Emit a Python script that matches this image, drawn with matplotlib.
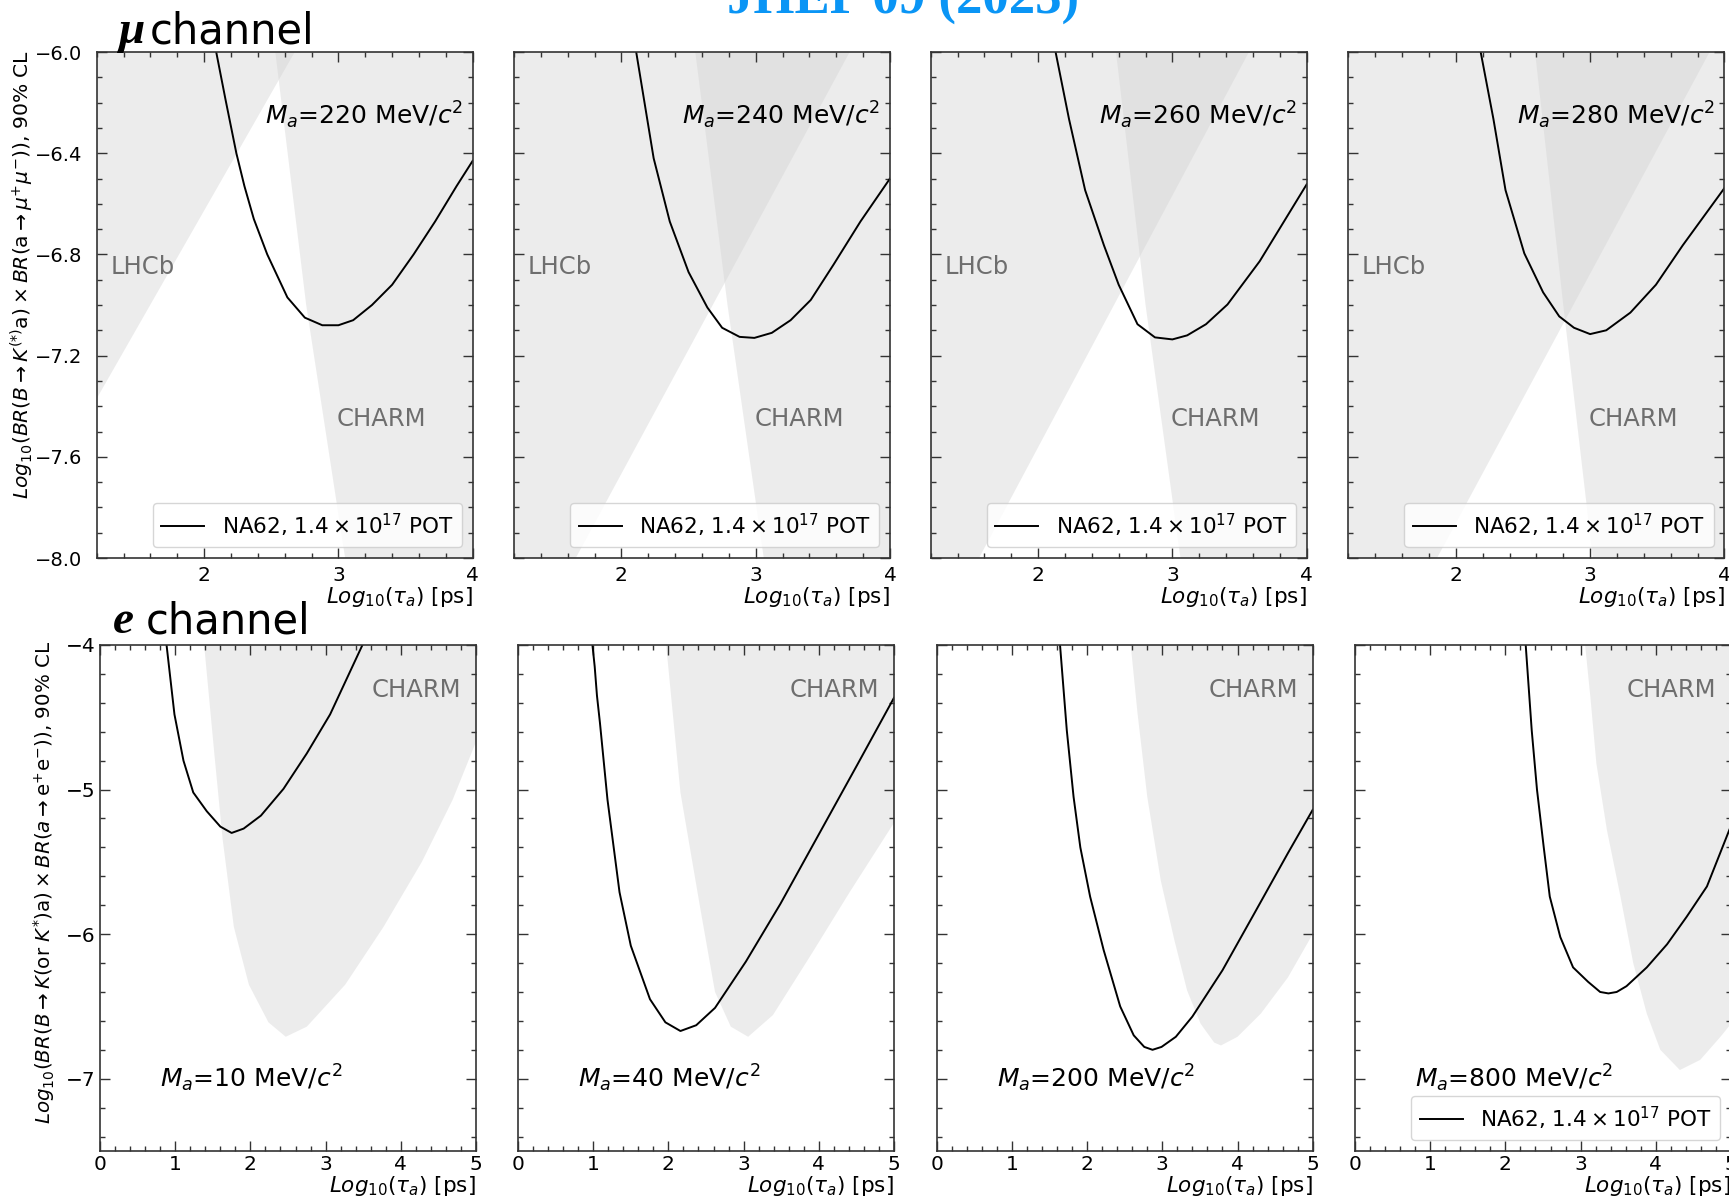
import numpy as np
import matplotlib
matplotlib.use("Agg")
import matplotlib.pyplot as plt
from matplotlib.ticker import MultipleLocator

# ---------------- muon channel: B -> K(*) a, a -> mu+ mu- ----------------
mu_masses = [220, 240, 260, 280]  # MeV/c^2

mu_tau_220 = [2.09, 2.16, 2.24, 2.30, 2.37, 2.47, 2.62, 2.75, 2.88, 3.00, 3.11, 3.25, 3.40, 3.56, 3.72, 3.88, 4.00]
mu_br_220 = [-6.00, -6.19, -6.40, -6.53, -6.66, -6.80, -6.97, -7.05, -7.08, -7.08, -7.06, -7.00, -6.92, -6.80, -6.67, -6.53, -6.43]
mu_tau_240 = [2.11, 2.24, 2.36, 2.50, 2.64, 2.75, 2.88, 2.99, 3.12, 3.26, 3.41, 3.58, 3.78, 4.00]
mu_br_240 = [-6.00, -6.42, -6.67, -6.87, -7.01, -7.09, -7.126, -7.13, -7.11, -7.06, -6.98, -6.84, -6.67, -6.50]
mu_tau_260 = [2.13, 2.23, 2.35, 2.49, 2.60, 2.74, 2.87, 3.00, 3.11, 3.25, 3.41, 3.65, 4.00]
mu_br_260 = [-6.00, -6.265, -6.546, -6.764, -6.92, -7.076, -7.128, -7.136, -7.12, -7.076, -6.998, -6.827, -6.523]
mu_tau_280 = [2.185, 2.28, 2.37, 2.51, 2.65, 2.77, 2.88, 3.00, 3.12, 3.30, 3.49, 3.69, 4.00]
mu_br_280 = [-6.00, -6.265, -6.546, -6.796, -6.95, -7.045, -7.09, -7.115, -7.10, -7.03, -6.92, -6.764, -6.538]

# LHCb exclusion edge (region above/left of the edge is excluded)
lhcb_x_220, lhcb_y_220 = [1.20, 2.675], [-7.37, -6.0]
lhcb_x_240, lhcb_y_240 = [1.66, 3.70], [-8.0, -6.0]
lhcb_x_260, lhcb_y_260 = [1.56, 3.57], [-8.0, -6.0]
lhcb_x_280, lhcb_y_280 = [1.86, 3.89], [-8.0, -6.0]

# CHARM exclusion edge for the muon channel (region right of the edge is excluded)
charm_mu_y = [-6.0, -7.0, -8.0]
charm_mu_x_220 = [2.53, 2.76, 3.05]
charm_mu_x_240 = [2.55, 2.79, 3.06]
charm_mu_x_260 = [2.58, 2.80, 3.06]
charm_mu_x_280 = [2.59, 2.80, 3.02]

# ---------------- electron channel: B -> K(or K*) a, a -> e+ e- ----------------
e_masses = [10, 40, 200, 800]  # MeV/c^2

e_tau_10 = [0.885, 0.99, 1.11, 1.24, 1.42, 1.60, 1.75, 1.91, 2.14, 2.44, 2.75, 3.06, 3.49]
e_br_10 = [-4.00, -4.48, -4.80, -5.02, -5.15, -5.256, -5.30, -5.27, -5.18, -4.995, -4.75, -4.48, -4.00]
e_tau_40 = [0.99, 1.02, 1.05, 1.09, 1.19, 1.35, 1.50, 1.755, 1.96, 2.16, 2.37, 2.62, 3.03, 3.49, 4.00, 4.51, 5.00]
e_br_40 = [-4.00, -4.15, -4.35, -4.54, -5.07, -5.71, -6.08, -6.45, -6.61, -6.67, -6.63, -6.51, -6.19, -5.79, -5.31, -4.83, -4.365]
e_tau_200 = [1.64, 1.73, 1.82, 1.91, 2.04, 2.22, 2.44, 2.62, 2.76, 2.87, 2.99, 3.18, 3.40, 3.80, 4.22, 4.67, 5.00]
e_br_200 = [-4.00, -4.59, -5.05, -5.40, -5.74, -6.11, -6.50, -6.70, -6.78, -6.80, -6.78, -6.71, -6.57, -6.25, -5.86, -5.44, -5.14]
e_tau_800 = [2.27, 2.35, 2.42, 2.51, 2.59, 2.73, 2.90, 3.10, 3.26, 3.37, 3.48, 3.61, 3.88, 4.15, 4.41, 4.68, 5.00]
e_br_800 = [-4.00, -4.59, -5.00, -5.40, -5.74, -6.02, -6.23, -6.33, -6.40, -6.41, -6.40, -6.36, -6.23, -6.07, -5.88, -5.67, -5.25]

# CHARM exclusion contour for the electron channel (region inside the U is excluded)
charm_e_x_10 = [1.385, 1.52, 1.63, 1.78, 1.98, 2.24, 2.47, 2.75, 3.26, 3.77, 4.28, 4.69, 5.00]
charm_e_y_10 = [-4.00, -4.75, -5.34, -5.95, -6.35, -6.61, -6.71, -6.64, -6.35, -5.95, -5.50, -5.07, -4.67]
charm_e_x_40 = [1.97, 2.16, 2.42, 2.62, 2.83, 3.06, 3.39, 3.90, 4.41, 5.00]
charm_e_y_40 = [-4.00, -5.02, -5.81, -6.40, -6.64, -6.71, -6.56, -6.14, -5.71, -5.23]
charm_e_x_200 = [2.58, 2.67, 2.80, 2.98, 3.16, 3.33, 3.51, 3.69, 3.78, 4.00, 4.31, 4.67, 5.00]
charm_e_y_200 = [-4.00, -4.47, -5.05, -5.63, -6.04, -6.39, -6.62, -6.75, -6.77, -6.71, -6.55, -6.30, -6.00]
charm_e_x_800 = [3.06, 3.13, 3.21, 3.35, 3.53, 3.70, 3.88, 4.06, 4.32, 4.59, 4.86, 5.00]
charm_e_y_800 = [-4.00, -4.36, -4.82, -5.28, -5.74, -6.20, -6.55, -6.80, -6.94, -6.87, -6.71, -6.62]

legend_label = r'NA62, $1.4\times10^{17}$ POT'
mu_ylabel = (r'$Log_{10}(BR(B\rightarrow K^{(*)}\mathrm{a})\times '
             r'BR(\mathrm{a}\rightarrow\mu^{+}\mu^{-}))$, 90% CL')
e_ylabel = (r'$Log_{10}(BR(B\rightarrow K(\mathrm{or}\ K^{*})\mathrm{a})\times '
            r'BR(a\rightarrow \mathrm{e}^{+}\mathrm{e}^{-}))$, 90% CL')
xlabel = r'$Log_{10}(\tau_a)$ [ps]'

mu_curves = [(mu_tau_220, mu_br_220), (mu_tau_240, mu_br_240),
             (mu_tau_260, mu_br_260), (mu_tau_280, mu_br_280)]
mu_lhcb = [(lhcb_x_220, lhcb_y_220), (lhcb_x_240, lhcb_y_240),
           (lhcb_x_260, lhcb_y_260), (lhcb_x_280, lhcb_y_280)]
mu_charm = [charm_mu_x_220, charm_mu_x_240, charm_mu_x_260, charm_mu_x_280]
e_curves = [(e_tau_10, e_br_10), (e_tau_40, e_br_40),
            (e_tau_200, e_br_200), (e_tau_800, e_br_800)]
e_charm = [(charm_e_x_10, charm_e_y_10), (charm_e_x_40, charm_e_y_40),
           (charm_e_x_200, charm_e_y_200), (charm_e_x_800, charm_e_y_800)]

# ---------------- styling ----------------
plt.rcParams['font.family'] = ['DejaVu Sans']
plt.rcParams['mathtext.fontset'] = 'dejavusans'
SPINE = '#333333'
SHADE = 'lightgray'
SHADE_ALPHA = 0.42
TXT_GRAY = '#6e6e6e'
LABEL_FS = 18
LEG_FS = 15.5

W, H = 1729, 1203
fig = plt.figure(figsize=(W / 100, H / 100), dpi=100)


def panel(left, top, w=376, h=506):
    return fig.add_axes([left / W, 1 - (top + h) / H, w / W, h / H])


def style(ax, xpad, ypad, xsize, ysize):
    for s in ax.spines.values():
        s.set_color(SPINE)
        s.set_linewidth(1.2)
    ax.tick_params(which='both', direction='in', top=True, right=True,
                   color=SPINE, width=1.0)
    ax.tick_params(which='major', length=7.5)
    ax.tick_params(which='minor', length=3.8)
    ax.tick_params(axis='x', pad=xpad, labelsize=xsize)
    ax.tick_params(axis='y', pad=ypad, labelsize=ysize)
    ax.set_xlabel(xlabel, fontsize=15.5, loc='right', labelpad=0)


# ---------------- top row: muon channel ----------------
top_lefts = [96.7, 514, 930.7, 1348.4]
MU_XMIN, MU_XMAX, MU_YMIN, MU_YMAX = 1.2, 4.0, -8.0, -6.0
for i, left in enumerate(top_lefts):
    ax = panel(left, 52)
    lx, ly = mu_lhcb[i]
    ax.fill(list(lx) + [MU_XMIN, MU_XMIN], list(ly) + [MU_YMAX, MU_YMIN],
            color=SHADE, alpha=SHADE_ALPHA, lw=0)
    ax.fill(list(mu_charm[i]) + [MU_XMAX, MU_XMAX], charm_mu_y + [MU_YMIN, MU_YMAX],
            color=SHADE, alpha=SHADE_ALPHA, lw=0)
    tx, by = mu_curves[i]
    ax.plot(tx, by, color='black', lw=1.4, label=legend_label)
    ax.set_xlim(MU_XMIN, MU_XMAX)
    ax.set_ylim(MU_YMIN, MU_YMAX)
    ax.xaxis.set_major_locator(MultipleLocator(1))
    ax.xaxis.set_minor_locator(MultipleLocator(0.2))
    ax.yaxis.set_major_locator(MultipleLocator(0.4))
    ax.yaxis.set_minor_locator(MultipleLocator(0.1))
    style(ax, xpad=5.5, ypad=10.5, xsize=14.5, ysize=14)
    ax.text(3.93, -6.25, rf'$M_a$={mu_masses[i]} MeV/$c^2$', fontsize=LABEL_FS,
            ha='right', va='center')
    ax.text(1.30, -6.85, 'LHCb', fontsize=17.5, color=TXT_GRAY, va='center')
    ax.text(2.99, -7.45, 'CHARM', fontsize=17.5, color=TXT_GRAY, va='center')
    ax.legend(loc='lower right', fontsize=LEG_FS)
    if i == 0:
        ax.set_ylabel(mu_ylabel, fontsize=14.6)
        ax.yaxis.label.set(rotation_mode='default', ha='center', va='top')
        ax.yaxis.set_label_coords((22 - left) / 376, 1 + 2 / 506)
    else:
        ax.set_yticklabels([])

# ---------------- bottom row: electron channel ----------------
bot_lefts = [100, 518, 936.7, 1355]
E_XMIN, E_XMAX, E_YMIN, E_YMAX = 0.0, 5.0, -7.5, -4.0
for i, left in enumerate(bot_lefts):
    ax = panel(left, 645)
    cx, cy = e_charm[i]
    ax.fill(list(cx) + [E_XMAX], list(cy) + [E_YMAX],
            color=SHADE, alpha=SHADE_ALPHA, lw=0)
    tx, by = e_curves[i]
    ax.plot(tx, by, color='black', lw=1.4, label=legend_label)
    ax.set_xlim(E_XMIN, E_XMAX)
    ax.set_ylim(E_YMIN, E_YMAX)
    ax.xaxis.set_major_locator(MultipleLocator(1))
    ax.xaxis.set_minor_locator(MultipleLocator(0.2))
    ax.yaxis.set_major_locator(MultipleLocator(1))
    ax.yaxis.set_minor_locator(MultipleLocator(0.2))
    style(ax, xpad=3.0, ypad=3.5, xsize=14.5, ysize=14.5)
    ax.text(0.80, -7.0, rf'$M_a$={e_masses[i]} MeV/$c^2$', fontsize=LABEL_FS,
            ha='left', va='center')
    ax.text(4.80, -4.31, 'CHARM', fontsize=17.5, color=TXT_GRAY,
            ha='right', va='center')
    if i == 3:
        ax.legend(loc='lower right', fontsize=LEG_FS)
    if i == 0:
        ax.set_ylabel(e_ylabel, fontsize=14.3)
        ax.yaxis.label.set(rotation_mode='default', ha='center', va='top')
        ax.yaxis.set_label_coords((44 - left) / 376, 1 + 4 / 506)
    else:
        ax.set_yticklabels([])

# ---------------- row headings and reference tag ----------------
fig.text(118 / W, 1 - 43 / H, 'μ', fontsize=34, fontfamily='Liberation Serif',
         fontweight='bold', fontstyle='italic', va='baseline', ha='left')
fig.text(150 / W, 1 - 43 / H, 'channel', fontsize=30, va='baseline', ha='left')
fig.text(113 / W, 1 - 633 / H, 'e', fontsize=34, fontfamily='Liberation Serif',
         fontweight='bold', fontstyle='italic', va='baseline', ha='left')
fig.text(146 / W, 1 - 633 / H, 'channel', fontsize=30, va='baseline', ha='left')
fig.text(903 / W, 1 - 14 / H, 'JHEP 09 (2023)', fontsize=38,
         fontfamily='Liberation Serif', fontweight='bold', color='#0a95f5',
         ha='center', va='baseline')

fig.savefig('out.png', dpi=100)
